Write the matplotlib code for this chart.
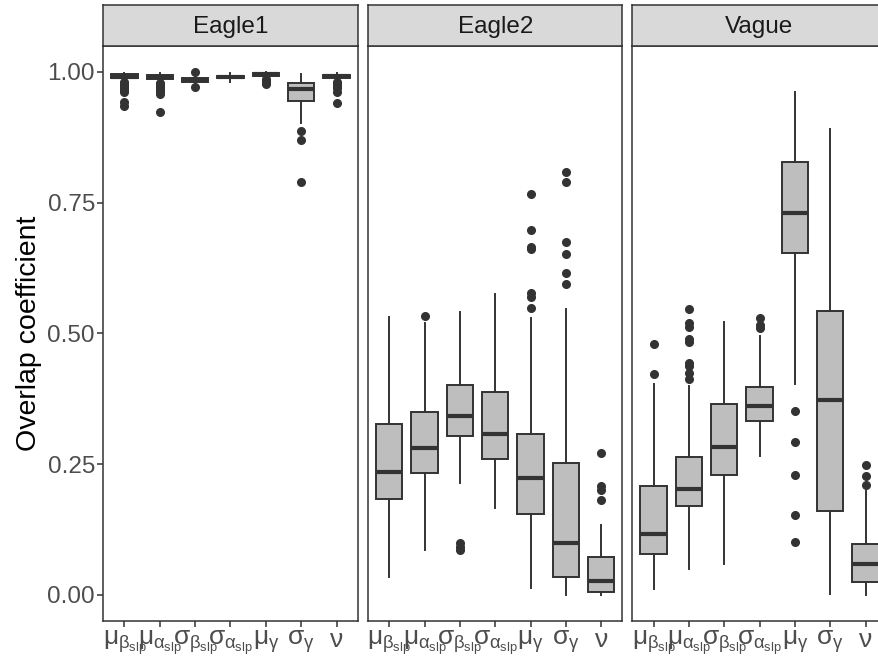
import matplotlib.pyplot as plt

plt.rcParams['font.family'] = ['Liberation Sans', 'DejaVu Sans']
plt.rcParams['mathtext.fontset'] = 'custom'
plt.rcParams['mathtext.rm'] = 'Liberation Sans'
plt.rcParams['mathtext.it'] = 'Liberation Sans'

facets = ['Eagle1', 'Eagle2', 'Vague']
params = [r'$\mu_{\beta_{\mathrm{slp}}}$', r'$\mu_{\alpha_{\mathrm{slp}}}$',
          r'$\sigma_{\beta_{\mathrm{slp}}}$', r'$\sigma_{\alpha_{\mathrm{slp}}}$',
          r'$\mu_{\gamma}$', r'$\sigma_{\gamma}$', r'$\nu$']

# per parameter: whisker low, q1, median, q3, whisker high
eagle1_box = [
    (0.984, 0.988, 0.991, 0.995, 0.998),
    (0.982, 0.986, 0.991, 0.994, 0.997),
    (0.976, 0.981, 0.985, 0.989, 0.994),
    (0.981, 0.988, 0.990, 0.992, 0.997),
    (0.988, 0.992, 0.995, 0.997, 0.999),
    (0.903, 0.945, 0.967, 0.978, 0.996),
    (0.984, 0.989, 0.992, 0.994, 0.998),
]
eagle1_out = [
    [0.980, 0.977, 0.974, 0.971, 0.968, 0.965, 0.962, 0.943, 0.934],
    [0.979, 0.976, 0.973, 0.970, 0.966, 0.962, 0.958, 0.923],
    [0.999, 0.971],
    [],
    [0.986, 0.983, 0.980, 0.977],
    [0.886, 0.870, 0.789],
    [0.981, 0.977, 0.973, 0.969, 0.962, 0.940],
]

eagle2_box = [
    (0.034, 0.184, 0.235, 0.327, 0.531),
    (0.085, 0.233, 0.281, 0.350, 0.519),
    (0.214, 0.304, 0.342, 0.402, 0.541),
    (0.166, 0.260, 0.307, 0.388, 0.576),
    (0.013, 0.155, 0.223, 0.307, 0.529),
    (0.000, 0.035, 0.099, 0.253, 0.546),
    (0.000, 0.005, 0.027, 0.072, 0.134),
]
eagle2_out = [
    [],
    [0.534],
    [0.099, 0.092, 0.086],
    [],
    [0.766, 0.698, 0.666, 0.661, 0.578, 0.570, 0.549],
    [0.809, 0.789, 0.674, 0.651, 0.615, 0.594],
    [0.272, 0.208, 0.200, 0.182],
]

vague_box = [
    (0.011, 0.078, 0.117, 0.209, 0.403),
    (0.049, 0.169, 0.202, 0.264, 0.400),
    (0.059, 0.230, 0.282, 0.365, 0.521),
    (0.266, 0.333, 0.362, 0.398, 0.495),
    (0.403, 0.653, 0.731, 0.827, 0.962),
    (0.001, 0.161, 0.372, 0.543, 0.891),
    (0.000, 0.025, 0.059, 0.098, 0.199),
]
vague_out = [
    [0.480, 0.423],
    [0.547, 0.519, 0.513, 0.490, 0.484, 0.443, 0.438, 0.424, 0.412],
    [],
    [0.530, 0.516, 0.510],
    [0.352, 0.293, 0.229, 0.153, 0.102],
    [],
    [0.249, 0.228, 0.210],
]

boxes = [eagle1_box, eagle2_box, vague_box]
outliers = [eagle1_out, eagle2_out, vague_out]

W, H = 879, 658
fig = plt.figure(figsize=(W / 100, H / 100), dpi=100)
fig.patch.set_facecolor('white')

dark = '#333333'
grey_txt = '#4D4D4D'
lefts = [103.3, 368.0, 632.3]
pw = 254.4
ptop, pbot, stop = 45.7, 621.0, 5.3

for k, name in enumerate(facets):
    ax = fig.add_axes([lefts[k] / W, (H - pbot) / H, pw / W, (pbot - ptop) / H])
    sax = fig.add_axes([lefts[k] / W, (H - ptop) / H, pw / W, (ptop - stop) / H])

    stats = []
    for (lo, q1, med, q3, hi), fl in zip(boxes[k], outliers[k]):
        stats.append(dict(whislo=lo, q1=q1, med=med, q3=q3, whishi=hi, fliers=fl))
    ax.bxp(stats, positions=range(1, 8), widths=0.75, patch_artist=True,
           showcaps=False,
           boxprops=dict(facecolor='#BEBEBE', edgecolor=dark, linewidth=1.4),
           medianprops=dict(color=dark, linewidth=3),
           whiskerprops=dict(color=dark, linewidth=1.4),
           flierprops=dict(marker='o', markerfacecolor=dark, markeredgecolor=dark,
                           markersize=5.5))

    ax.set_xlim(0.4, 7.6)
    ax.set_ylim(-0.05, 1.05)
    ax.set_xticks(range(1, 8))
    ax.set_xticklabels(params)
    ax.set_yticks([0, 0.25, 0.5, 0.75, 1.0])
    ax.set_yticklabels(['0.00', '0.25', '0.50', '0.75', '1.00'])
    ax.tick_params(axis='both', length=4, width=1.1, color=dark,
                   labelcolor=grey_txt, labelsize=17.5, pad=2)
    ax.tick_params(axis='x', labelsize=19, pad=1)
    if k > 0:
        ax.tick_params(axis='y', left=False, labelleft=False)
    else:
        ax.set_ylabel('Overlap coefficient', fontsize=20.5, color='black', labelpad=4)
    for sp in ax.spines.values():
        sp.set_color(dark)
        sp.set_linewidth(1.1)

    sax.set_facecolor('#D9D9D9')
    sax.set_xticks([])
    sax.set_yticks([])
    for sp in sax.spines.values():
        sp.set_color(dark)
        sp.set_linewidth(1.1)
    sax.text(0.5, 0.47, name, transform=sax.transAxes, ha='center', va='center',
             fontsize=17.5, color='#1A1A1A')

fig.savefig('out.png', dpi=100)
